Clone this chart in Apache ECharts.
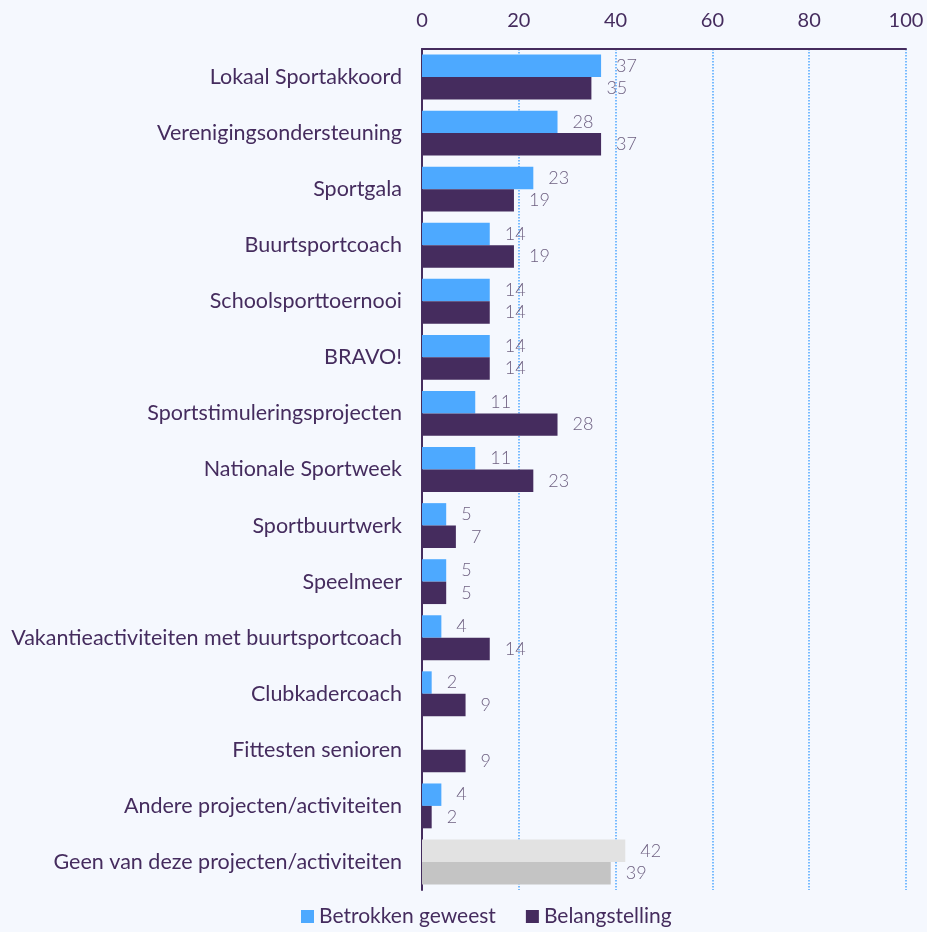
<!DOCTYPE html>
<html>
<head>
<meta charset="utf-8">
<script src="https://cdn.jsdelivr.net/npm/echarts@6/dist/echarts.min.js"></script>
<style>
  html, body { margin: 0; padding: 0; background: #f5f8fe; }
  #main { width: 927px; height: 932px; }
</style>
</head>
<body>
<div id="main"></div>
<script>
// categorieën (van boven naar beneden)
var categories = [
    'Lokaal Sportakkoord',
    'Verenigingsondersteuning',
    'Sportgala',
    'Buurtsportcoach',
    'Schoolsporttoernooi',
    'BRAVO!',
    'Sportstimuleringsprojecten',
    'Nationale Sportweek',
    'Sportbuurtwerk',
    'Speelmeer',
    'Vakantieactiviteiten met buurtsportcoach',
    'Clubkadercoach',
    'Fittesten senioren',
    'Andere projecten/activiteiten',
    'Geen van deze projecten/activiteiten'
];

var betrokken = [37, 28, 23, 14, 14, 14, 11, 11, 5, 5, 4, 2, null, 4, 42];
var belangstelling = [35, 37, 19, 19, 14, 14, 28, 23, 7, 5, 14, 9, 9, 2, 39];

var xTicks = [0, 20, 40, 60, 80, 100];

var myChart = echarts.init(document.getElementById('main'));

// laatste categorie in grijs
function toData(values, greyColor) {
    return values.map(function (v, i) {
        if (i === values.length - 1) {
            return { value: v, itemStyle: { color: greyColor } };
        }
        return v;
    });
}

var labelStyle = {
    show: true,
    position: 'right',
    distance: 15,
    color: '#6d5f80',
    fontFamily: 'Lato',
    fontWeight: 300,
    fontSize: 18
};

var option = {
    backgroundColor: '#f5f8fe',
    textStyle: { fontFamily: 'Lato' },
    grid: {
        left: 422,
        right: 21,
        top: 49,
        bottom: 42,
        containLabel: false
    },
    legend: {
        bottom: 0,
        left: 296,
        itemWidth: 13,
        itemHeight: 13,
        itemGap: 30,
        icon: 'rect',
        textStyle: { color: '#452c5e', fontSize: 21, fontFamily: 'Lato' },
        data: ['Betrokken geweest', 'Belangstelling']
    },
    xAxis: {
        type: 'value',
        position: 'top',
        min: xTicks[0],
        max: xTicks[xTicks.length - 1],
        interval: 20,
        axisLine: { show: true, lineStyle: { color: '#452c5e', width: 2 } },
        axisTick: { show: false },
        axisLabel: { color: '#452c5e', fontSize: 20, margin: 18, fontFamily: 'Lato' },
        splitLine: { show: true, lineStyle: { color: '#4da6ff', type: 'dotted', width: 1.5 } }
    },
    yAxis: {
        type: 'category',
        inverse: true,
        data: categories,
        axisLine: { show: true, lineStyle: { color: '#452c5e', width: 2 } },
        axisTick: { show: false },
        axisLabel: { color: '#452c5e', fontSize: 21.5, margin: 20, fontFamily: 'Lato' }
    },
    series: [
        {
            name: 'Betrokken geweest',
            type: 'bar',
            barGap: '0%',
            barCategoryGap: '20%',
            itemStyle: { color: '#4da9ff' },
            label: labelStyle,
            data: toData(betrokken, '#e2e2e2')
        },
        {
            name: 'Belangstelling',
            type: 'bar',
            itemStyle: { color: '#452c5e' },
            label: labelStyle,
            data: toData(belangstelling, '#c4c4c4')
        }
    ]
};

myChart.setOption(option);
</script>
</body>
</html>
